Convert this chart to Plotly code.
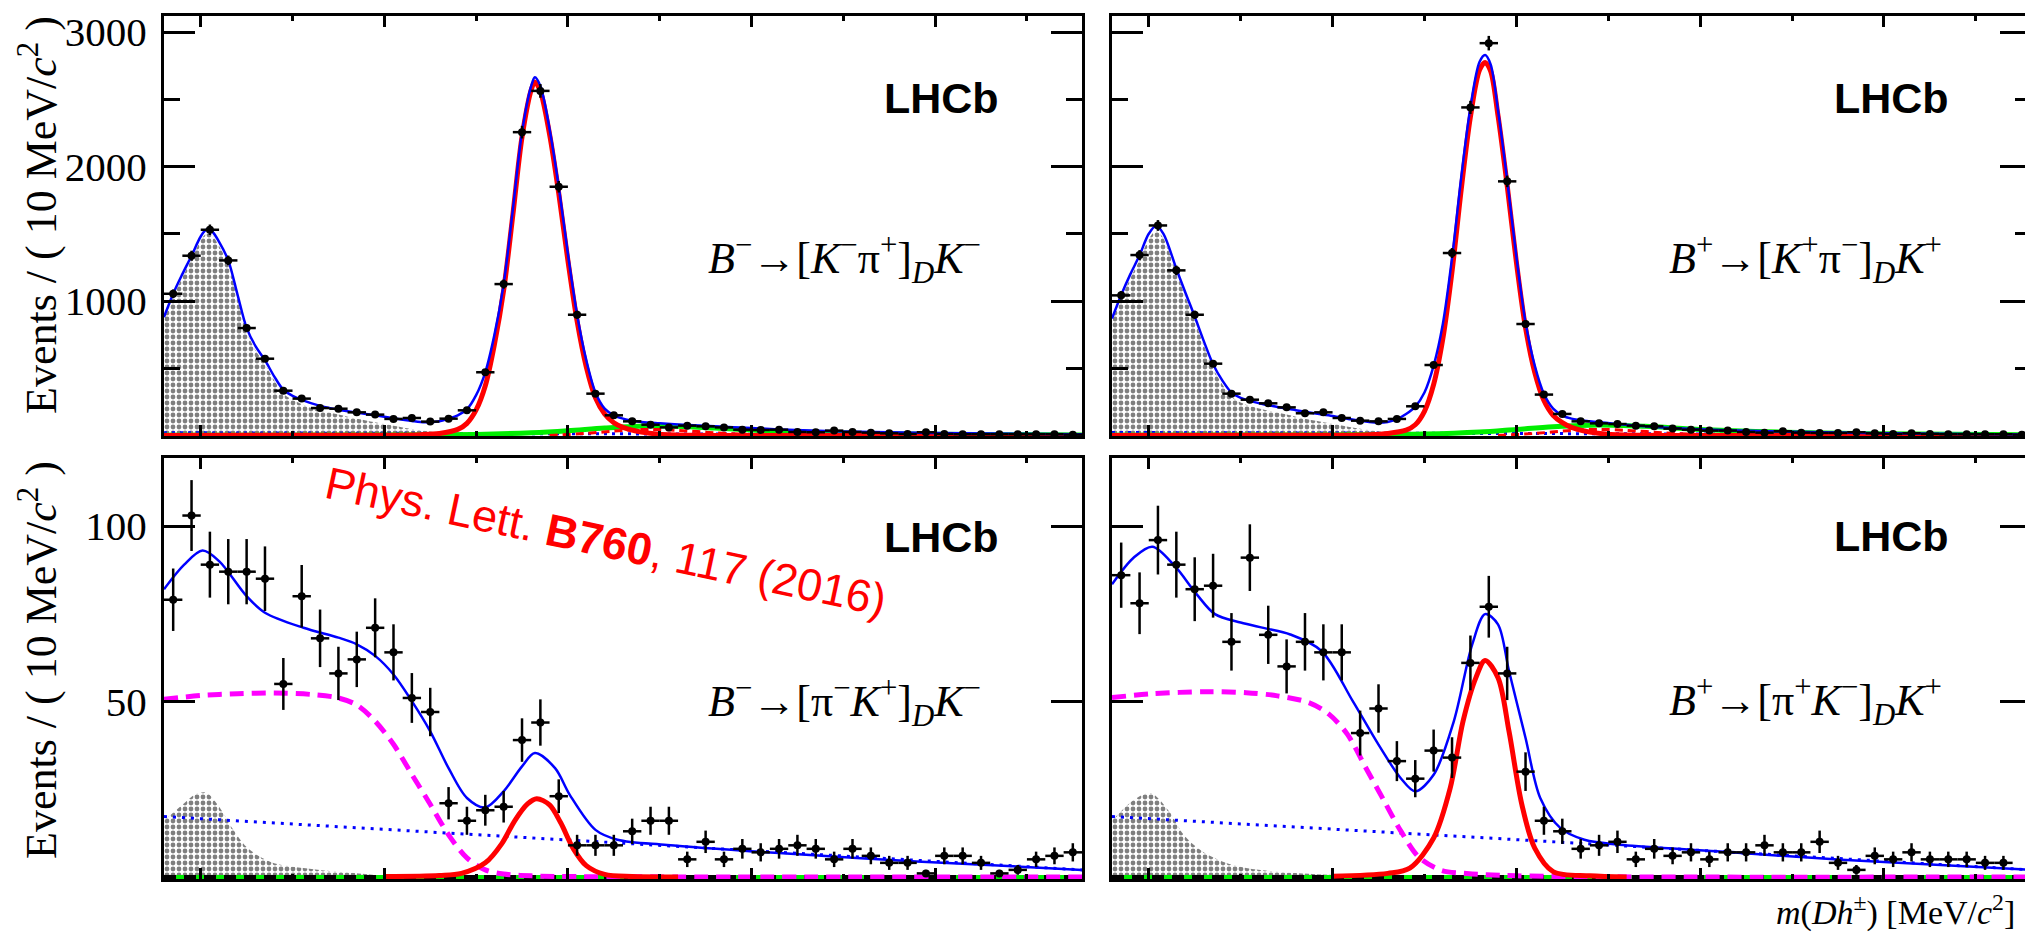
import plotly.graph_objects as go

# ---------------- binning / axes ----------------
BIN_LOW, BIN_WIDTH, NBINS = 5080, 10, 50
BIN_CENTERS = [BIN_LOW + BIN_WIDTH * (i + 0.5) for i in range(NBINS)]
X_RANGE = [5080, 5580]
X_MAJOR = [5100, 5200, 5300, 5400, 5500]
X_MINOR = [5150, 5250, 5350, 5450, 5550]
TOP_Y_RANGE = [-4, 3120]
TOP_Y_TICKS = [1000, 2000, 3000]
TOP_Y_MINOR = [500, 1500, 2500]
BOT_Y_RANGE = [-0.6, 119.4]
BOT_Y_TICKS = [50, 100]

# ---------------- data: B- -> [K- pi+]_D K- (top left) ----------------
TL_DATA = [1054, 1337, 1530, 1302, 799, 571, 333, 274, 204, 199, 172, 155, 123, 130, 103, 125, 187, 470,
           1126, 2256, 2563, 1850, 898, 311, 150, 105, 80, 60, 73, 68, 60, 43, 41, 43, 26, 24, 36, 26, 21,
           16, 11, 24, 11, 9, 9, 9, 9, 9, 9, 6]
TL_ERR = [32, 37, 39, 36, 28, 24, 18, 17, 14, 14, 13, 12, 11, 11, 10, 11, 14, 22, 34, 47, 51, 43, 30, 18,
          12, 10, 9, 8, 9, 8, 8, 7, 6, 7, 5, 5, 6, 5, 5, 4, 3, 5, 3, 3, 3, 3, 3, 3, 3, 2]
TL_TOTAL_X = [5080, 5085, 5090, 5095, 5100, 5103, 5106, 5110, 5115, 5120, 5125, 5130, 5135, 5140, 5145, 5150,
              5155, 5165, 5175, 5185, 5195, 5205, 5215, 5222, 5230, 5235, 5240, 5245, 5250, 5255, 5260, 5265,
              5270, 5275, 5280, 5282, 5285, 5290, 5295, 5300, 5305, 5310, 5315, 5320, 5325, 5330, 5340, 5350,
              5360, 5380, 5400, 5420, 5450, 5500, 5580]
TL_TOTAL_Y = [880, 1054, 1200, 1337, 1480, 1530, 1520, 1440, 1302, 1050, 800, 660, 560, 440, 340, 295, 265,
              220, 192, 170, 150, 128, 108, 98, 105, 125, 150, 195, 300, 470, 750, 1126, 1680, 2256, 2600,
              2665, 2600, 2280, 1850, 1350, 898, 560, 320, 200, 150, 125, 100, 90, 82, 68, 55, 42, 30, 18, 9]
TL_PART_X = [5080, 5085, 5090, 5095, 5100, 5103, 5106, 5110, 5115, 5120, 5125, 5130, 5135, 5140, 5145, 5150,
             5160, 5170, 5180, 5190, 5200, 5210, 5220, 5230, 5240, 5250, 5260]
TL_PART_Y = [860, 1030, 1175, 1310, 1450, 1500, 1490, 1410, 1270, 1020, 770, 630, 530, 410, 310, 265, 205,
             170, 140, 112, 85, 60, 38, 20, 8, 2, 0]
TL_SIG_X = [5080, 5200, 5220, 5230, 5240, 5245, 5250, 5255, 5260, 5265, 5270, 5275, 5280, 5282, 5285, 5290,
            5295, 5300, 5305, 5310, 5315, 5320, 5325, 5330, 5340, 5350, 5370, 5400, 5580]
TL_SIG_Y = [0, 2, 6, 15, 45, 90, 190, 370, 680, 1080, 1640, 2220, 2570, 2630, 2560, 2240, 1800, 1300, 850,
            510, 280, 160, 95, 60, 25, 10, 2, 0, 0]
TL_MISID_X = [5080, 5200, 5250, 5280, 5300, 5320, 5345, 5360, 5380, 5400, 5420, 5450, 5500, 5580]
TL_MISID_Y = [2, 3, 8, 20, 35, 55, 72, 68, 55, 40, 28, 17, 9, 4]
TL_BS_X = [5290, 5310, 5330, 5345, 5360, 5380, 5400, 5420]
TL_BS_Y = [0, 15, 38, 45, 38, 20, 6, 0]
TL_COMB_X = [5080, 5330, 5580]
TL_COMB_Y = [20, 11, 4]

# ---------------- data: B+ -> [K+ pi-]_D K+ (top right) ----------------
TR_DATA = [1042, 1342, 1562, 1228, 898, 534, 311, 266, 239, 209, 165, 172, 130, 110, 105, 123, 217, 524,
           1357, 2440, 2918, 1890, 829, 304, 160, 105, 90, 85, 73, 68, 51, 43, 36, 36, 26, 21, 31, 21, 19,
           19, 24, 16, 11, 16, 11, 9, 9, 9, 9, 6]
TR_ERR = [32, 37, 40, 35, 30, 23, 18, 16, 15, 14, 13, 13, 11, 10, 10, 11, 15, 23, 37, 49, 54, 43, 29, 17,
          13, 10, 9, 9, 9, 8, 7, 7, 6, 6, 5, 5, 6, 5, 4, 4, 5, 4, 3, 4, 3, 3, 3, 3, 3, 2]
TR_TOTAL_X = [5080, 5085, 5090, 5095, 5100, 5104, 5108, 5115, 5120, 5125, 5130, 5135, 5140, 5145, 5150, 5160,
              5170, 5180, 5190, 5200, 5210, 5220, 5225, 5230, 5235, 5240, 5245, 5250, 5255, 5260, 5265, 5270,
              5275, 5280, 5283, 5286, 5290, 5295, 5300, 5305, 5310, 5315, 5320, 5325, 5330, 5340, 5355, 5370,
              5385, 5400, 5425, 5450, 5500, 5580]
TR_TOTAL_Y = [870, 1045, 1200, 1340, 1500, 1560, 1500, 1240, 1060, 885, 700, 530, 410, 320, 280, 240, 212,
              188, 165, 145, 120, 100, 95, 100, 122, 160, 215, 320, 520, 830, 1320, 1920, 2440, 2780, 2830,
              2760, 2420, 1900, 1330, 840, 520, 310, 200, 150, 125, 105, 85, 68, 55, 46, 35, 27, 17, 7]
TR_PART_X = [5080, 5085, 5090, 5095, 5100, 5104, 5108, 5115, 5120, 5125, 5130, 5135, 5140, 5145, 5150, 5160,
             5170, 5180, 5190, 5200, 5210, 5220, 5230, 5240, 5250, 5260]
TR_PART_Y = [850, 1020, 1170, 1305, 1460, 1520, 1465, 1210, 1030, 855, 670, 500, 380, 290, 245, 200, 170,
             140, 112, 88, 62, 40, 22, 9, 2, 0]
TR_SIG_X = [5080, 5200, 5220, 5230, 5240, 5245, 5250, 5255, 5260, 5265, 5270, 5275, 5280, 5283, 5286, 5290,
            5295, 5300, 5305, 5310, 5315, 5320, 5325, 5330, 5340, 5350, 5370, 5400, 5580]
TR_SIG_Y = [0, 2, 6, 15, 40, 80, 180, 380, 720, 1220, 1830, 2370, 2720, 2775, 2710, 2380, 1860, 1290, 800,
            470, 260, 150, 95, 60, 25, 10, 2, 0, 0]
TR_MISID_X = [5080, 5200, 5250, 5280, 5300, 5320, 5345, 5370, 5400, 5430, 5460, 5500, 5580]
TR_MISID_Y = [2, 4, 10, 25, 45, 65, 78, 68, 45, 30, 20, 12, 5]
TR_BS_X = [5290, 5310, 5330, 5345, 5360, 5380, 5400, 5420]
TR_BS_Y = [0, 15, 38, 45, 38, 20, 6, 0]
TR_COMB_X = [5080, 5330, 5580]
TR_COMB_Y = [22, 12, 5]

# ---------------- data: B- -> [pi- K+]_D K- (bottom left) ----------------
BL_DATA = [79, 103, 89, 87, 87, 85, 55, 80, 68, 58, 62, 71, 64, 51, 47, 21, 16, 19, 20, 39, 44, 23, 9, 9, 9,
           13, 16, 16, 5, 10, 5, 8, 7, 8, 9, 8, 5, 8, 6, 4, 4, 1, 6, 6, 4, 1, 2, 5, 6, 7]
BL_ERR = [8.9, 10.1, 9.4, 9.3, 9.3, 9.2, 7.4, 8.9, 8.2, 7.6, 7.9, 8.4, 8.0, 7.1, 6.9, 4.6, 4.0, 4.4, 4.5,
          6.2, 6.6, 4.8, 3.0, 3.0, 3.0, 3.6, 4.0, 4.0, 2.2, 3.2, 2.2, 2.8, 2.6, 2.8, 3.0, 2.8, 2.2, 2.8, 2.4,
          2.0, 2.0, 1.0, 2.4, 2.4, 2.0, 1.0, 1.4, 2.2, 2.4, 2.6]
BL_TOTAL_X = [5080, 5091, 5101, 5110, 5125, 5135, 5156, 5175, 5185, 5195, 5205, 5215, 5225, 5235, 5245, 5255,
              5265, 5275, 5282, 5293, 5301, 5315, 5327, 5354, 5415, 5490, 5580]
BL_TOTAL_Y = [82, 89, 93, 90, 80, 75.3, 71, 68.2, 66.3, 63, 57.7, 50.1, 41.5, 31, 22.5, 19.8, 24.4, 31.5,
              35.3, 31, 23.4, 13.4, 10.6, 9.1, 6.8, 4.4, 2.0]
BL_PART_X = [5080, 5091, 5097, 5103, 5110, 5117, 5125, 5133, 5140, 5156, 5167, 5186, 5201, 5220]
BL_PART_Y = [16, 21, 23.5, 24, 20, 14, 8.5, 5.5, 3.9, 2.5, 1.8, 1.0, 0.3, 0]
BL_DSTAR_X = [5080, 5100, 5120, 5140, 5160, 5175, 5185, 5195, 5205, 5215, 5225, 5235, 5245, 5255, 5265, 5280,
              5300, 5580]
BL_DSTAR_Y = [50.6, 51.7, 52.2, 52.4, 52, 51, 49, 44.4, 37.8, 29.2, 20.7, 12, 5.4, 2, 0.8, 0.3, 0.1, 0]
BL_SIG_X = [5200, 5230, 5242, 5255, 5264, 5271, 5278, 5283, 5290, 5296, 5303, 5310, 5320, 5335, 5360]
BL_SIG_Y = [0.1, 0.4, 1, 4, 9.5, 16, 20.8, 22.3, 20.5, 15.5, 8, 3.2, 0.7, 0.1, 0]
BL_COMB_X = [5080, 5330, 5580]
BL_COMB_Y = [17.2, 9.6, 2.0]
BL_ZERO_X = [5080, 5580]
BL_ZERO_Y = [0, 0]

# ---------------- data: B+ -> [pi+ K-]_D K+ (bottom right) ----------------
BR_DATA = [86, 78, 96, 89, 82, 83, 67, 91, 69, 60, 67, 64, 64, 41, 48, 33, 28, 36, 34, 61, 77, 58, 30, 16,
           13, 8, 9, 10, 5, 8, 6, 7, 5, 7, 7, 9, 7, 7, 10, 4, 2, 6, 5, 7, 5, 5, 5, 4, 4, None]
BR_ERR = [9.3, 8.8, 9.8, 9.4, 9.1, 9.1, 8.2, 9.5, 8.3, 7.7, 8.2, 8.0, 8.0, 6.4, 6.9, 5.7, 5.3, 6.0, 5.8,
          7.8, 8.8, 7.6, 5.5, 4.0, 3.6, 2.8, 3.0, 3.2, 2.2, 2.8, 2.4, 2.6, 2.2, 2.6, 2.6, 3.0, 2.6, 2.6, 3.2,
          2.0, 1.4, 2.4, 2.2, 2.6, 2.2, 2.2, 2.2, 2.0, 2.0, 0]
BR_TOTAL_X = [5080, 5092, 5102, 5114, 5126, 5136, 5150, 5163, 5177, 5194, 5211, 5225, 5237, 5245, 5255, 5266,
              5276, 5283, 5290, 5296, 5305, 5313, 5324, 5337, 5358, 5409, 5477, 5580]
BR_TOTAL_Y = [83.4, 91.1, 94.1, 88.7, 80.6, 74.9, 72.5, 70.9, 69.1, 64.4, 50.1, 37.7, 28.2, 24.4, 29.1, 44.4,
              66.3, 74.9, 72, 58.7, 39.6, 22.5, 13.9, 10.6, 9.1, 7.3, 4.9, 2.0]
BR_PART_X = [5080, 5092, 5101, 5111, 5119, 5129, 5140, 5153, 5170, 5198, 5230]
BR_PART_Y = [16, 22, 23.9, 18.7, 12, 7.3, 4.4, 2.5, 1.5, 0.6, 0]
BR_DSTAR_X = [5080, 5102, 5131, 5153, 5170, 5187, 5198, 5208, 5218, 5228, 5237, 5247, 5259, 5273, 5300, 5580]
BR_DSTAR_Y = [51.1, 52.2, 52.8, 52.5, 51.6, 49.7, 46.4, 40.7, 31.2, 21.7, 13.2, 5.6, 1.9, 1.0, 0.3, 0]
BR_SIG_X = [5200, 5230, 5242, 5255, 5264, 5271, 5278, 5283, 5290, 5296, 5303, 5310, 5320, 5340, 5360]
BR_SIG_Y = [0.2, 1, 2.5, 11.1, 25.3, 44.4, 56.8, 61.7, 56.8, 41.5, 20.6, 8.2, 1.5, 0.3, 0]
BR_COMB_X = [5080, 5334, 5580]
BR_COMB_Y = [17.2, 9.6, 2.0]
BR_ZERO_X = [5080, 5580]
BR_ZERO_Y = [0, 0]

# ---------------- text ----------------
Y_TITLE = "Events / ( 10 MeV/<i>c</i><sup>2</sup> )"
X_TITLE = "<i>m</i>(<i>Dh</i><sup>±</sup>) [MeV/<i>c</i><sup>2</sup>]"
LABELS = [
    "<i>B</i><sup>−</sup>→[<i>K</i><sup>−</sup>π<sup>+</sup>]<sub><i>D</i></sub><i>K</i><sup>−</sup>",
    "<i>B</i><sup>+</sup>→[<i>K</i><sup>+</sup>π<sup>−</sup>]<sub><i>D</i></sub><i>K</i><sup>+</sup>",
    "<i>B</i><sup>−</sup>→[π<sup>−</sup><i>K</i><sup>+</sup>]<sub><i>D</i></sub><i>K</i><sup>−</sup>",
    "<i>B</i><sup>+</sup>→[π<sup>+</sup><i>K</i><sup>−</sup>]<sub><i>D</i></sub><i>K</i><sup>+</sup>",
]
REF_TEXT = "Phys. Lett. <b>B760</b>, 117 (2016)"

SERIF = "Liberation Serif"
SANS = "Liberation Sans"
W, H = 2033, 935

fig = go.Figure()


def line(xs, ys, xa, ya, color, width, dash="solid", spline=True):
    fig.add_trace(go.Scatter(
        x=xs, y=ys, xaxis=xa, yaxis=ya, mode="lines", hoverinfo="skip", showlegend=False,
        line=dict(color=color, width=width, dash=dash, shape="spline" if spline else "linear", smoothing=0.9)))


def shaded(xs, ys, xa, ya):
    fig.add_trace(go.Scatter(
        x=xs, y=ys, xaxis=xa, yaxis=ya, mode="lines", fill="tozeroy", hoverinfo="skip", showlegend=False,
        line=dict(color="black", width=0, shape="spline", smoothing=0.9),
        fillcolor="white",
        fillpattern=dict(shape=".", fgcolor="black", bgcolor="white", size=6, solidity=0.5)))


def data(vals, errs, xa, ya):
    fig.add_trace(go.Scatter(
        x=BIN_CENTERS, y=vals, xaxis=xa, yaxis=ya, mode="markers", showlegend=False,
        marker=dict(color="black", size=8, symbol="circle"),
        error_x=dict(type="constant", value=BIN_WIDTH / 2, color="black", thickness=2.5, width=0),
        error_y=dict(type="data", array=errs, color="black", thickness=2.5, width=0)))


BLUE, RED, GREEN, MAG = "#0000ff", "#ff0000", "#00ee00", "#ff00ff"

# top left
shaded(TL_PART_X, TL_PART_Y, "x", "y")
line(TL_COMB_X, TL_COMB_Y, "x", "y", BLUE, 3, "3px,5px", spline=False)
line(TL_MISID_X, TL_MISID_Y, "x", "y", GREEN, 5)
line(TL_BS_X, TL_BS_Y, "x", "y", RED, 3, "8px,5px")
line(TL_SIG_X, TL_SIG_Y, "x", "y", RED, 5)
line(TL_TOTAL_X, TL_TOTAL_Y, "x", "y", BLUE, 2.5)
data(TL_DATA, TL_ERR, "x", "y")

# top right
shaded(TR_PART_X, TR_PART_Y, "x2", "y2")
line(TR_COMB_X, TR_COMB_Y, "x2", "y2", BLUE, 3, "3px,5px", spline=False)
line(TR_MISID_X, TR_MISID_Y, "x2", "y2", GREEN, 5)
line(TR_BS_X, TR_BS_Y, "x2", "y2", RED, 3, "8px,5px")
line(TR_SIG_X, TR_SIG_Y, "x2", "y2", RED, 5)
line(TR_TOTAL_X, TR_TOTAL_Y, "x2", "y2", BLUE, 2.5)
data(TR_DATA, TR_ERR, "x2", "y2")

# bottom left
shaded(BL_PART_X, BL_PART_Y, "x3", "y3")
line(BL_COMB_X, BL_COMB_Y, "x3", "y3", BLUE, 3, "3px,6px", spline=False)
line(BL_ZERO_X, BL_ZERO_Y, "x3", "y3", GREEN, 4, spline=False)
line(BL_ZERO_X, BL_ZERO_Y, "x3", "y3", "black", 4, "12px,8px", spline=False)
line(BL_DSTAR_X, BL_DSTAR_Y, "x3", "y3", MAG, 5, "14px,8px")
line(BL_SIG_X, BL_SIG_Y, "x3", "y3", RED, 5)
line(BL_TOTAL_X, BL_TOTAL_Y, "x3", "y3", BLUE, 2.5)
data(BL_DATA, BL_ERR, "x3", "y3")

# bottom right
shaded(BR_PART_X, BR_PART_Y, "x4", "y4")
line(BR_COMB_X, BR_COMB_Y, "x4", "y4", BLUE, 3, "3px,6px", spline=False)
line(BR_ZERO_X, BR_ZERO_Y, "x4", "y4", GREEN, 4, spline=False)
line(BR_ZERO_X, BR_ZERO_Y, "x4", "y4", "black", 4, "12px,8px", spline=False)
line(BR_DSTAR_X, BR_DSTAR_Y, "x4", "y4", MAG, 5, "14px,8px")
line(BR_SIG_X, BR_SIG_Y, "x4", "y4", RED, 5)
line(BR_TOTAL_X, BR_TOTAL_Y, "x4", "y4", BLUE, 2.5)
data(BR_DATA, BR_ERR, "x4", "y4")

# ---------------- layout ----------------
XL = [156 / W, 1074 / W]
XR = [1104 / W, 2023 / W]
YT = [1 - 428 / H, 1 - 8 / H]
YB = [1 - 871 / H, 1 - 450 / H]


def xax(domain, anchor):
    return dict(domain=domain, anchor=anchor, range=X_RANGE, showticklabels=False, automargin=False,
                tickmode="array", tickvals=X_MAJOR, ticks="inside", ticklen=11, tickwidth=3,
                tickcolor="black",
                minor=dict(tickmode="array", tickvals=X_MINOR, ticks="inside", ticklen=5, tickwidth=3,
                           tickcolor="black", showgrid=False),
                showline=True, linecolor="black", linewidth=3, mirror="allticks",
                showgrid=False, zeroline=False, fixedrange=True)


def yax(domain, anchor, rng, ticks, minor, labels):
    d = dict(domain=domain, anchor=anchor, range=rng, tickmode="array", tickvals=ticks,
             ticktext=[str(t) for t in ticks], showticklabels=labels, automargin=False,
             ticks="inside", ticklen=31, tickwidth=3, tickcolor="black",
             tickfont=dict(family=SERIF, size=41, color="black"), ticklabelstandoff=6,
             showline=True, linecolor="black", linewidth=3, mirror="allticks",
             showgrid=False, zeroline=False, fixedrange=True)
    if minor:
        d["minor"] = dict(tickmode="array", tickvals=minor, ticks="inside", ticklen=16, tickwidth=3,
                          tickcolor="black", showgrid=False)
    return d


annotations = []
for yc in (1 - 207 / H, 1 - 652 / H):
    annotations.append(dict(text=Y_TITLE, xref="paper", yref="paper", x=30 / W, y=yc, showarrow=False,
                            textangle=-90, font=dict(family=SERIF, size=44, color="black"),
                            xanchor="center", yanchor="middle"))
for xr, yc in ((993, 90), (1943, 90), (993, 529), (1943, 528)):
    annotations.append(dict(text="<b>LHCb</b>", xref="paper", yref="paper", x=xr / W, y=1 - yc / H,
                            showarrow=False, font=dict(family=SANS, size=43, color="black"),
                            xanchor="right", yanchor="middle"))
for lab, (xr, yc) in zip(LABELS, ((975, 251), (1936, 251), (975, 694), (1936, 693))):
    annotations.append(dict(text=lab, xref="paper", yref="paper", x=xr / W, y=1 - yc / H,
                            showarrow=False, font=dict(family=SERIF, size=44, color="black"),
                            xanchor="right", yanchor="middle"))
annotations.append(dict(text=REF_TEXT, xref="paper", yref="paper", x=598 / W, y=1 - 533 / H,
                        showarrow=False, textangle=12, font=dict(family=SANS, size=45, color="#ff0000"),
                        xanchor="center", yanchor="middle"))
annotations.append(dict(text=X_TITLE, xref="paper", yref="paper", x=2009 / W, y=1 - 902 / H,
                        showarrow=False, font=dict(family=SERIF, size=34, color="black"),
                        xanchor="right", yanchor="middle"))

fig.update_layout(
    width=W, height=H, margin=dict(l=0, r=0, t=0, b=0, autoexpand=False),
    paper_bgcolor="white", plot_bgcolor="white", showlegend=False,
    xaxis=xax(XL, "y"), yaxis=yax(YT, "x", TOP_Y_RANGE, TOP_Y_TICKS, TOP_Y_MINOR, True),
    xaxis2=xax(XR, "y2"), yaxis2=yax(YT, "x2", TOP_Y_RANGE, TOP_Y_TICKS, TOP_Y_MINOR, False),
    xaxis3=xax(XL, "y3"), yaxis3=yax(YB, "x3", BOT_Y_RANGE, BOT_Y_TICKS, None, True),
    xaxis4=xax(XR, "y4"), yaxis4=yax(YB, "x4", BOT_Y_RANGE, BOT_Y_TICKS, None, False),
    annotations=annotations,
)

fig.write_html("out.html")
